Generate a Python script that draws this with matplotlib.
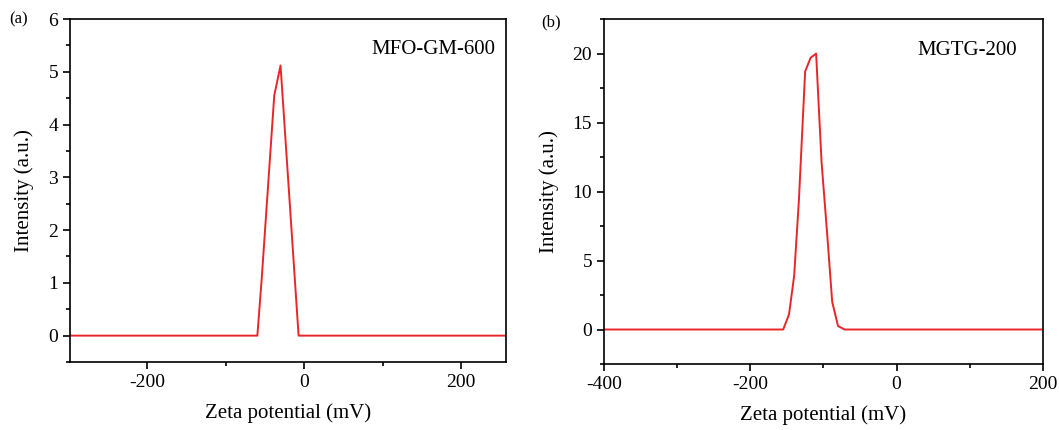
import matplotlib
matplotlib.use("Agg")
import matplotlib.pyplot as plt
from matplotlib.ticker import MultipleLocator

plt.rcParams['font.family'] = ['Liberation Serif', 'DejaVu Serif']
plt.rcParams['axes.unicode_minus'] = False

# Panel (a) data
xa = [-300, -59.5, -54, -38, -30, -7, 260]
ya = [0, 0, 1.07, 4.55, 5.12, 0, 0]
# Panel (b) data
xb = [-400, -155, -147, -140, -133.5, -125, -117.5, -110, -102.5, -95, -88, -80, -71, 200]
yb = [0, 0, 1.1, 3.9, 9.4, 18.7, 19.7, 20.0, 12.1, 7.0, 2.0, 0.25, 0, 0]

labels = ["MFO-GM-600", "MGTG-200"]
red = '#e8262a'

fig = plt.figure(figsize=(10.59, 4.30), dpi=100)
axa = fig.add_axes([0.0661, 0.1581, 0.4117, 0.7977])
axb = fig.add_axes([0.5703, 0.1535, 0.4145, 0.8020])

for ax in (axa, axb):
    ax.tick_params(axis='both', which='both', direction='out', labelsize=14,
                   top=False, right=False, width=1.2)
    ax.tick_params(which='major', length=5)
    ax.tick_params(which='minor', length=3)
    for s in ax.spines.values():
        s.set_linewidth(1.2)
    ax.set_xlabel("Zeta potential (mV)", fontsize=15, labelpad=9)
    ax.set_ylabel("Intensity (a.u.)", fontsize=15, labelpad=10)

axa.plot(xa, ya, color=red, lw=1.4)
axa.set_xlim(-298, 257)
axa.set_ylim(-0.5, 6)
axa.xaxis.set_major_locator(MultipleLocator(200))
axa.xaxis.set_minor_locator(MultipleLocator(100))
axa.yaxis.set_major_locator(MultipleLocator(1))
axa.yaxis.set_minor_locator(MultipleLocator(0.5))
axa.text(0.975, 0.91, labels[0], transform=axa.transAxes, ha='right', va='center', fontsize=15)

axb.plot(xb, yb, color=red, lw=1.4)
axb.set_xlim(-400, 200)
axb.set_ylim(-2.5, 22.5)
axb.xaxis.set_major_locator(MultipleLocator(200))
axb.xaxis.set_minor_locator(MultipleLocator(100))
axb.yaxis.set_major_locator(MultipleLocator(5))
axb.yaxis.set_minor_locator(MultipleLocator(2.5))
axb.text(0.94, 0.91, labels[1], transform=axb.transAxes, ha='right', va='center', fontsize=15)

fig.text(0.009, 0.955, "(a)", fontsize=12, ha='left', va='center')
fig.text(0.511, 0.948, "(b)", fontsize=12, ha='left', va='center')

fig.savefig("out.png", dpi=100)
